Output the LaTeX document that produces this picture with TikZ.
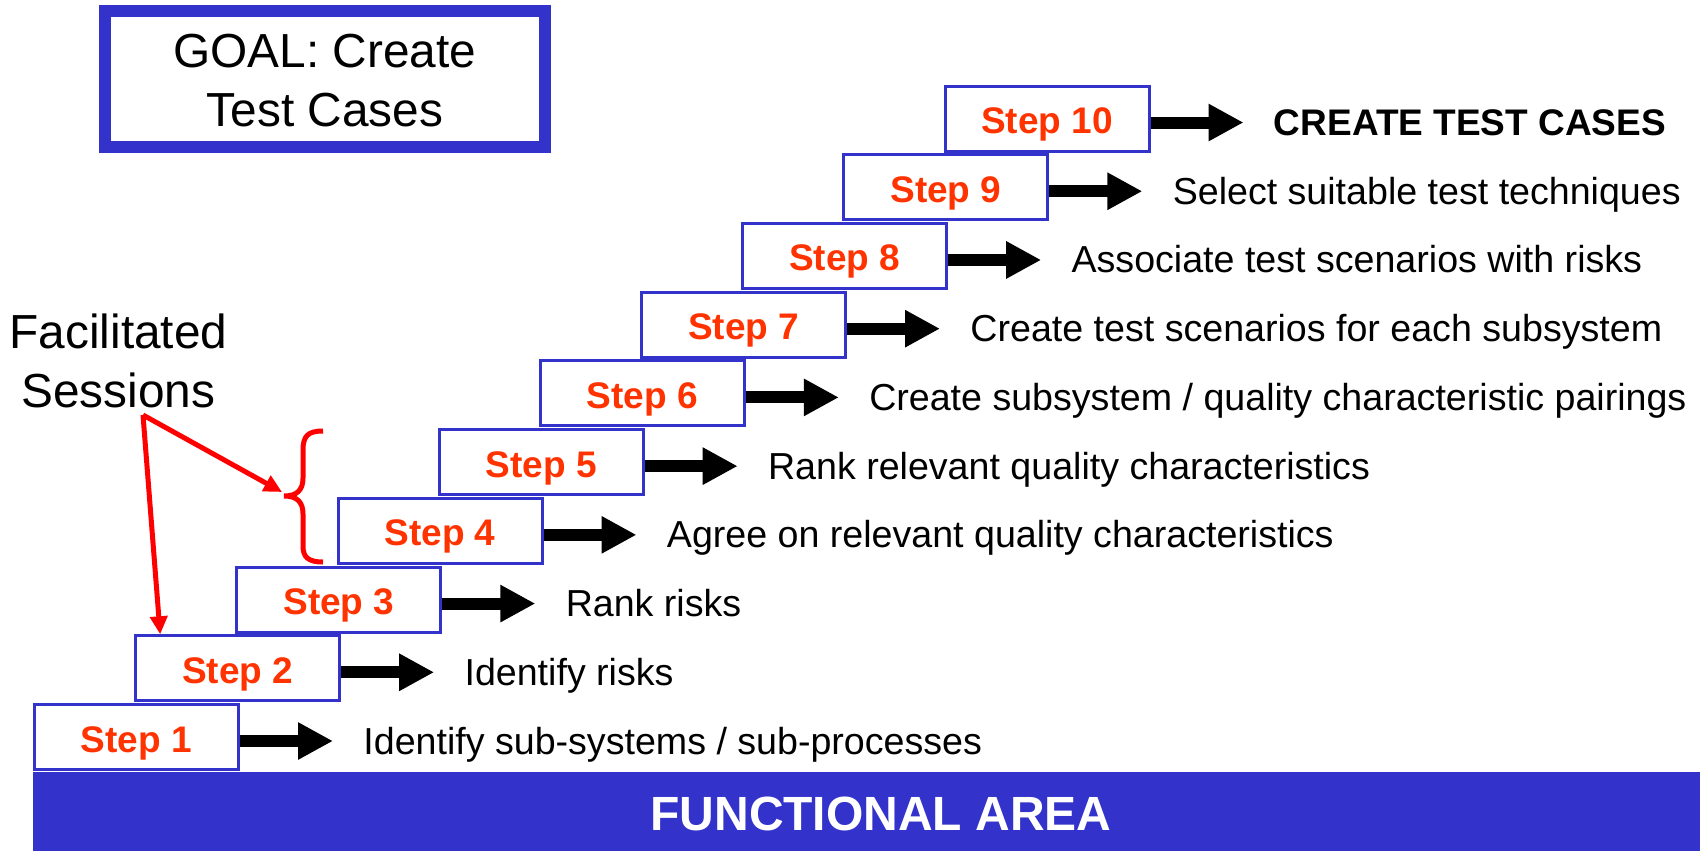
\documentclass[tikz,border=0pt]{standalone}
\usepackage{fontspec}
\setmainfont{Liberation Sans}
\usetikzlibrary{arrows.meta,calc}
\definecolor{boxblue}{RGB}{51,51,204}
\definecolor{steporange}{RGB}{255,51,0}
\definecolor{bracered}{RGB}{255,0,0}
\tikzset{
  stepbox/.style={draw=boxblue, line width=1.5pt, fill=white, inner sep=0pt,
    minimum width=102pt, minimum height=32.5pt, text=steporange,
    font=\fontsize{18.5}{22}\selectfont\bfseries, text height=15pt, text depth=0pt},
  lab/.style={anchor=base west, inner sep=0pt, font=\fontsize{18.8}{22}\selectfont},
  bigarrow/.style={line width=6pt, -{Triangle[length=17.5pt,width=17.5pt]}},
  redarrow/.style={draw=bracered, line width=2.5pt, -{Triangle[length=9pt,width=8.5pt]}, color=bracered},
  bigtext/.style={font=\fontsize{23.9}{29.5}\selectfont, align=center, inner sep=0pt},
}
\begin{document}
\begin{tikzpicture}[x=0.5pt,y=-0.5pt]
\useasboundingbox (0,0) rectangle (1700,851);
% goal box
\node[draw=boxblue, line width=6pt, inner sep=0pt, minimum width=220.25pt, minimum height=68pt] (goal) at (324.75,79) {};
\node[bigtext] (goaltxt) at (325,81) {GOAL: Create\\Test Cases};
% bottom bar
\node[fill=boxblue, inner sep=0pt, minimum width=833.5pt, minimum height=39.5pt, anchor=north west] (bar) at (33,772) {};
\node[anchor=base, inner sep=0pt, text=white, font=\fontsize{24}{29}\selectfont\bfseries] (fa) at (881,830) {FUNCTIONAL AREA};
% steps
\foreach \i in {1,...,10} {
  \node[stepbox] (s\i) at ({136.5+(\i-1)*101.17},{737-(\i-1)*68.72}) {Step \i};
  \coordinate (e\i) at ($(s\i.east)+(93,4)$);
  \draw[bigarrow] ([yshift=-2pt]s\i.east) -- (e\i);
}
\node[lab] (l1) at ($(s1.east)+(123,17)$) {Identify sub-systems / sub-processes};
\node[lab] (l2) at ($(s2.east)+(123,17)$) {Identify risks};
\node[lab] (l3) at ($(s3.east)+(123,17)$) {Rank risks};
\node[lab] (l4) at ($(s4.east)+(123,17)$) {Agree on relevant quality characteristics};
\node[lab] (l5) at ($(s5.east)+(123,17)$) {Rank relevant quality characteristics};
\node[lab] (l6) at ($(s6.east)+(123,17)$) {Create subsystem / quality characteristic pairings};
\node[lab] (l7) at ($(s7.east)+(123,17)$) {Create test scenarios for each subsystem};
\node[lab] (l8) at ($(s8.east)+(123,17)$) {Associate test scenarios with risks};
\node[lab] (l9) at ($(s9.east)+(123,17)$) {Select suitable test techniques};
\node[lab, font=\fontsize{18.5}{22}\selectfont\bfseries] (l10) at ($(s10.east)+(123,17)$) {CREATE TEST CASES};
% facilitated sessions
\node[bigtext] (fs) at (118.5,361) {Facilitated\\Sessions};
\coordinate (fsp) at (143,415);
\coordinate (brtip) at (284,496);
\coordinate (brA) at (282,492);
\coordinate (t2) at ($(s2.north west)+(26,0)$);
\draw[bracered, line width=2.5pt] (323,431) .. controls (308,431) and (303,436) .. (303,450) -- (303,478)
  .. controls (303,490) and (297,496) .. (brtip)
  .. controls (297,496) and (303,502) .. (303,514) -- (303,546)
  .. controls (303,557) and (308,562) .. (323,562);
\draw[redarrow] (fsp) -- (brA);
\draw[redarrow] (fsp) -- (t2);
\end{tikzpicture}
\end{document}
